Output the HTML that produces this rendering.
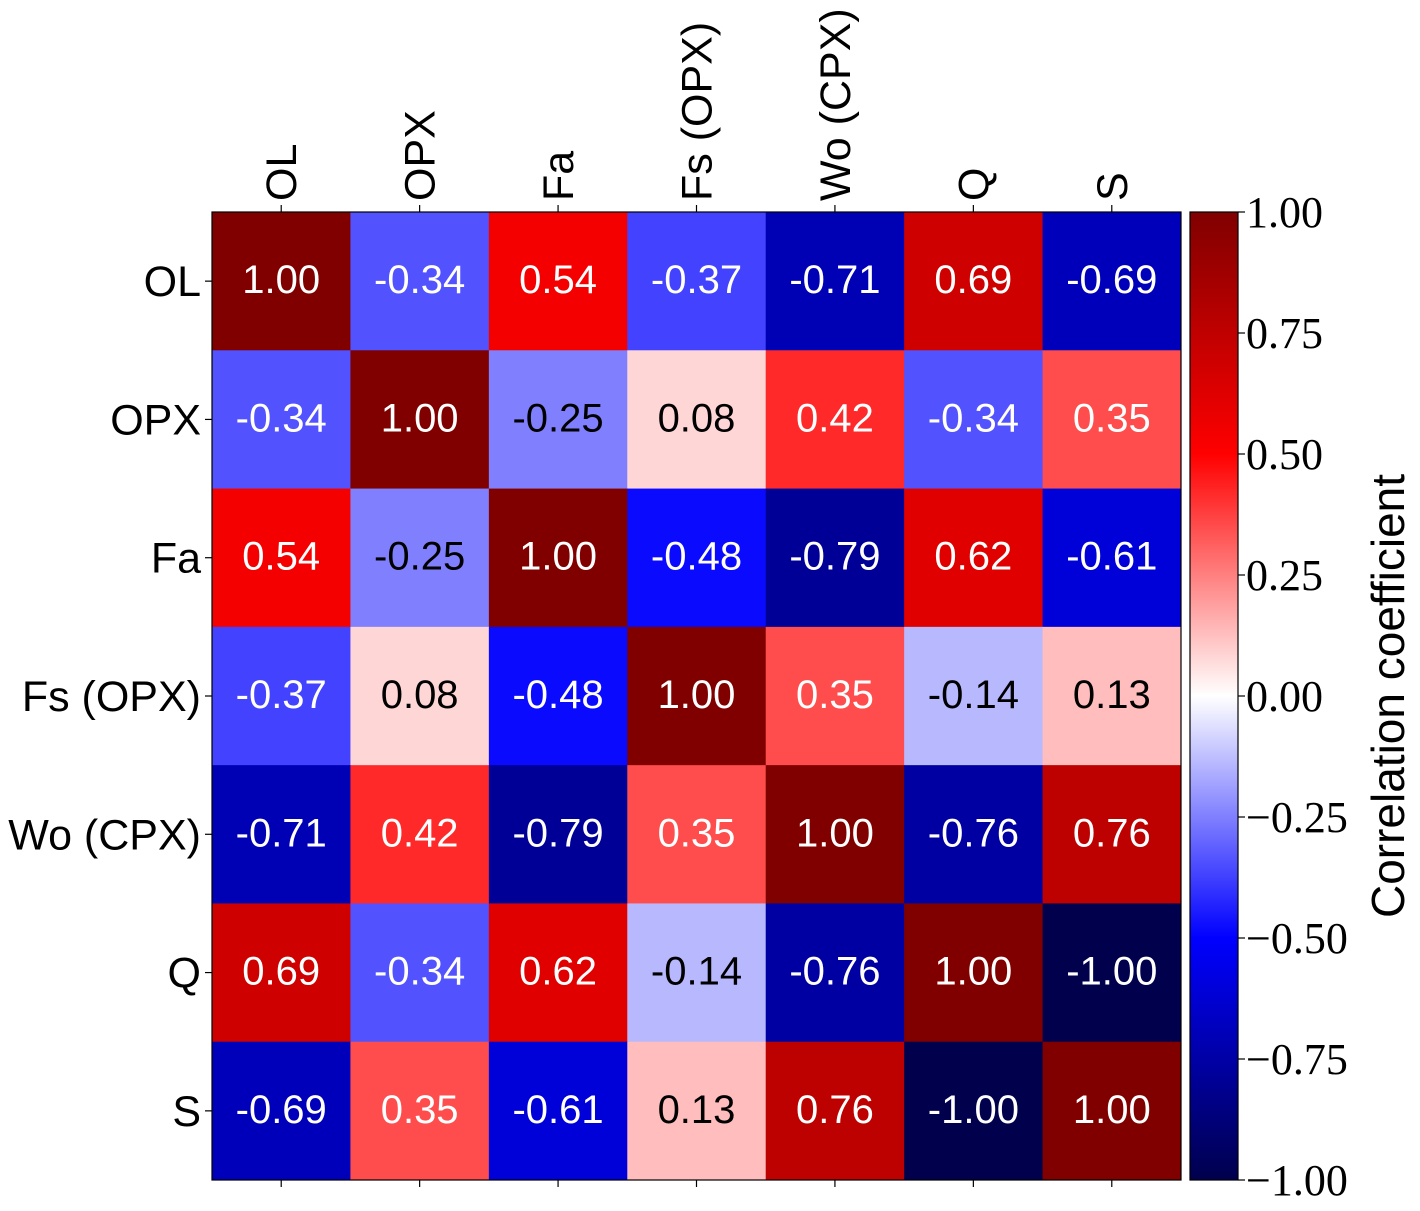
<!DOCTYPE html>
<html><head><meta charset="utf-8"><style>
body{margin:0;background:#fff;}
svg{display:block;}
</style></head><body>
<svg id="chart" width="1420" height="1211" xmlns="http://www.w3.org/2000/svg"></svg>
<script>
const labels = ["OL","OPX","Fa","Fs (OPX)","Wo (CPX)","Q","S"];
const matrix = [
 [1.00,-0.34,0.54,-0.37,-0.71,0.69,-0.69],
 [-0.34,1.00,-0.25,0.08,0.42,-0.34,0.35],
 [0.54,-0.25,1.00,-0.48,-0.79,0.62,-0.61],
 [-0.37,0.08,-0.48,1.00,0.35,-0.14,0.13],
 [-0.71,0.42,-0.79,0.35,1.00,-0.76,0.76],
 [0.69,-0.34,0.62,-0.14,-0.76,1.00,-1.00],
 [-0.69,0.35,-0.61,0.13,0.76,-1.00,1.00]
];
const cbTicks = [1.00,0.75,0.50,0.25,0.00,-0.25,-0.50,-0.75,-1.00];

const svg = document.getElementById('chart');
const NS = "http://www.w3.org/2000/svg";
const X0=212, Y0=212, W=969, H=968;
const n = labels.length, cw=W/n, ch=H/n;
const CBX=1190, CBW=48;
function xPos(i){return X0+i*cw;}
function yPos(i){return Y0+i*ch;}
function cbY(v){return Y0+(1-v)/2*H;}
function seismic(v){
  const t=(v+1)/2;
  const stops=[[0,0,0,0.3],[0.25,0,0,1],[0.5,1,1,1],[0.75,1,0,0],[1,0.5,0,0]];
  for(let k=0;k<stops.length-1;k++){
    const a=stops[k],b=stops[k+1];
    if(t<=b[0]){const f=(t-a[0])/(b[0]-a[0]);
      const c=[1,2,3].map(j=>Math.round(255*(a[j]+(b[j]-a[j])*f)));
      return `rgb(${c[0]},${c[1]},${c[2]})`;}
  }
  return 'rgb(128,0,0)';
}
function mk(tag,attrs,text){const e=document.createElementNS(NS,tag);for(const k in attrs)e.setAttribute(k,attrs[k]);if(text!==undefined)e.textContent=text;svg.appendChild(e);return e;}

for(let r=0;r<n;r++)for(let c=0;c<n;c++){
  const v=matrix[r][c];
  const rect=mk('rect',{x:xPos(c),y:yPos(r),width:cw+0.5,height:ch+0.5,fill:seismic(v)});
  
  
  const t=mk('text',{x:xPos(c)+cw/2,y:yPos(r)+ch/2+12,'text-anchor':'middle','font-size':40,'font-family':'"Liberation Sans",sans-serif',fill:Math.abs(v)>0.3?'#fff':'#000'},v.toFixed(2));
  
  
}
const frame=mk('rect',{x:X0,y:Y0,width:W,height:H,fill:'none',stroke:'#000','stroke-width':1.2});



for(let i=0;i<n;i++){
  const cx=xPos(i)+cw/2, cy=yPos(i)+ch/2;
  mk('line',{x1:cx,y1:Y0,x2:cx,y2:Y0-7,stroke:'#000','stroke-width':1.2});
  mk('line',{x1:cx,y1:Y0+H,x2:cx,y2:Y0+H+7,stroke:'#000','stroke-width':1.2});
  mk('line',{x1:X0,y1:cy,x2:X0-7,y2:cy,stroke:'#000','stroke-width':1.2});
  const tl=mk('text',{x:X0-11,y:cy+15,'text-anchor':'end','font-size':43,'font-family':'"Liberation Sans",sans-serif'},labels[i]);
  
  
  const tc=mk('text',{x:0,y:0,'text-anchor':'start','font-size':43,'font-family':'"Liberation Sans",sans-serif',transform:`translate(${cx+15},${Y0-11}) rotate(-90)`},labels[i]);
  
  
}

// colorbar
const defs=mk('defs',{});
const grad=document.createElementNS(NS,'linearGradient');
grad.setAttribute('id','cbg');grad.setAttribute('x1','0');grad.setAttribute('y1','1');grad.setAttribute('x2','0');grad.setAttribute('y2','0');
for(let k=0;k<=20;k++){const v=-1+k*0.1;const s=document.createElementNS(NS,'stop');s.setAttribute('offset',(k/20));s.setAttribute('stop-color',seismic(v));grad.appendChild(s);}
defs.appendChild(grad);
const cb=mk('rect',{x:CBX,y:Y0,width:CBW,height:H,fill:'url(#cbg)',stroke:'#000','stroke-width':1.2});


cbTicks.forEach((v,i)=>{
  const y=cbY(v);
  mk('line',{x1:CBX+CBW,y1:y,x2:CBX+CBW+7,y2:y,stroke:'#000','stroke-width':1.2});
  const lbl=(v<0?'\u2212':'')+Math.abs(v).toFixed(2);
  const t=mk('text',{x:CBX+CBW+8,y:y+15,'font-size':44,'font-family':'"Liberation Serif",serif'},lbl);
  
  
});
const ct=mk('text',{x:0,y:0,'text-anchor':'middle','font-size':46,'font-family':'"Liberation Sans",sans-serif',transform:`translate(1404,${Y0+H/2}) rotate(-90)`},'Correlation coefficient');


</script>
</body></html>
